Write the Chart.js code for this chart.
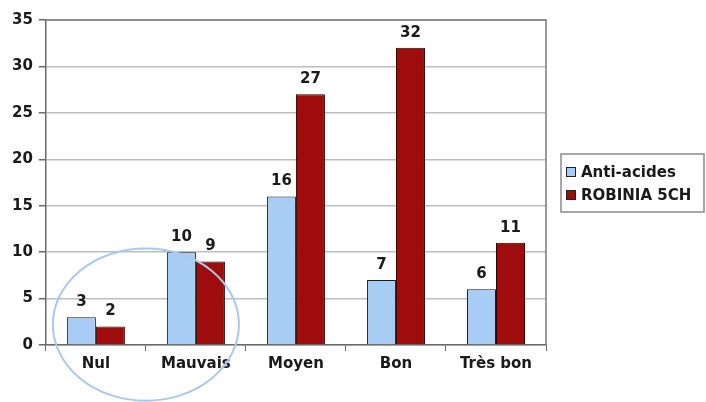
<!DOCTYPE html>
<html>
<head>
<meta charset="utf-8">
<script src="https://cdn.jsdelivr.net/npm/chart.js@4"></script>
<style>
  html, body { margin: 0; padding: 0; background: #fff; }
  #wrap { width: 706px; height: 402px; }
</style>
</head>
<body>
<div id="wrap"><canvas id="chart"></canvas></div>
<script>
const categories = ['Nul', 'Mauvais', 'Moyen', 'Bon', 'Très bon'];
const antiAcides = [3, 10, 16, 7, 6];
const robinia = [2, 9, 27, 32, 11];
const yTicks = [0, 5, 10, 15, 20, 25, 30, 35];

const FONT = '"DejaVu Sans", sans-serif';

// value labels above each bar
const barLabels = {
  id: 'barLabels',
  afterDatasetsDraw(chart) {
    const ctx = chart.ctx;
    ctx.save();
    ctx.font = 'bold 15px ' + FONT;
    ctx.fillStyle = '#1a1a1a';
    ctx.textAlign = 'center';
    ctx.textBaseline = 'alphabetic';
    chart.data.datasets.forEach((ds, i) => {
      chart.getDatasetMeta(i).data.forEach((bar, j) => {
        ctx.fillText(String(ds.data[j]), bar.x, bar.y - 11);
      });
    });
    ctx.restore();
  }
};

// plot frame, legend box and the hand-drawn ellipse
const decor = {
  id: 'decor',
  afterDraw(chart) {
    const ctx = chart.ctx;
    const a = chart.chartArea;
    const x = chart.scales.x, y = chart.scales.y;
    ctx.save();
    ctx.strokeStyle = '#7a7a7a';
    ctx.lineWidth = 1.5;
    ctx.beginPath();
    ctx.moveTo(a.left, a.top);
    ctx.lineTo(a.right, a.top);
    ctx.lineTo(a.right, a.bottom);
    ctx.stroke();

    // legend
    const lx = 561, ly = 154, lw = 143, lh = 58;
    ctx.strokeStyle = '#8a8a8a';
    ctx.lineWidth = 1.5;
    ctx.strokeRect(lx, ly, lw, lh);
    ctx.font = 'bold 15px ' + FONT;
    ctx.textBaseline = 'middle';
    ctx.textAlign = 'left';
    chart.data.datasets.forEach((ds, i) => {
      const cy = ly + 18 + i * 23;
      ctx.fillStyle = ds.backgroundColor;
      ctx.fillRect(566, cy - 5, 10, 10);
      ctx.strokeStyle = '#222';
      ctx.lineWidth = 1;
      ctx.strokeRect(566.5, cy - 4.5, 9, 9);
      ctx.fillStyle = '#1a1a1a';
      ctx.fillText(ds.label, 581, cy + 1);
    });

    // ellipse around the first two categories
    const step = x.getPixelForValue(1) - x.getPixelForValue(0);
    const cx = (x.getPixelForValue(0) + x.getPixelForValue(1)) / 2;
    const cy = y.getPixelForValue(2.2);
    const rx = step * 0.93;
    const ry = Math.abs(y.getPixelForValue(0) - y.getPixelForValue(8.2));
    ctx.strokeStyle = '#a9c8ee';
    ctx.lineWidth = 2;
    ctx.beginPath();
    ctx.ellipse(cx, cy, rx, ry, 0, 0, Math.PI * 2);
    ctx.stroke();
    ctx.restore();
  }
};

new Chart(document.getElementById('chart'), {
  type: 'bar',
  data: {
    labels: categories,
    datasets: [
      {
        label: 'Anti-acides',
        data: antiAcides,
        backgroundColor: '#a8cdf5',
        borderColor: '#1a1a1a',
        borderWidth: 1
      },
      {
        label: 'ROBINIA 5CH',
        data: robinia,
        backgroundColor: '#9e0c0c',
        borderColor: '#2a0000',
        borderWidth: 1
      }
    ]
  },
  options: {
    responsive: true,
    maintainAspectRatio: false,
    animation: false,
    layout: { padding: { left: 6, top: 20, right: 160, bottom: 25 } },
    datasets: { bar: { categoryPercentage: 0.58, barPercentage: 1 } },
    plugins: {
      legend: { display: false },
      tooltip: { enabled: false }
    },
    scales: {
      x: {
        offset: true,
        grid: {
          offset: true,
          drawOnChartArea: false,
          drawTicks: true,
          tickLength: 6,
          color: '#6a6a6a'
        },
        border: { color: '#6a6a6a', width: 1.5 },
        ticks: {
          color: '#1a1a1a',
          padding: 4,
          font: { family: FONT, size: 15, weight: 'bold' }
        }
      },
      y: {
        min: 0,
        max: 35,
        afterBuildTicks(scale) {
          scale.ticks = yTicks.map(v => ({ value: v }));
        },
        grid: {
          color: '#bdbdbd',
          lineWidth: 1.5,
          tickLength: 7,
          tickColor: '#6a6a6a'
        },
        border: { color: '#6a6a6a', width: 1.5 },
        ticks: {
          color: '#1a1a1a',
          padding: 6,
          font: { family: FONT, size: 15, weight: 'bold' }
        }
      }
    }
  },
  plugins: [barLabels, decor]
});
</script>
</body>
</html>
